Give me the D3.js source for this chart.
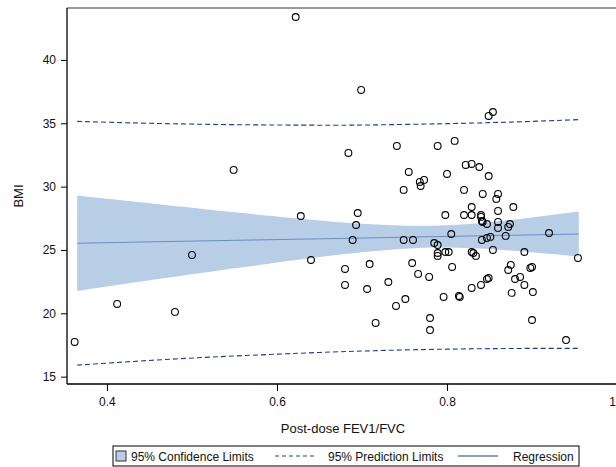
<!DOCTYPE html>
<html>
<head>
<meta charset="utf-8">
<script src="https://cdn.jsdelivr.net/npm/d3@7"></script>
<style>
  body { margin: 0; background: #fff; }
  svg { display: block; font-family: "Liberation Sans", Arial, sans-serif; }
</style>
</head>
<body>
<svg id="chart" width="616" height="467"></svg>
<script>
'use strict';

// scatter: post-dose FEV1/FVC vs BMI
var fevRatio = [0.362, 0.412, 0.480, 0.500, 0.549, 0.622, 0.628, 0.640, 0.680, 0.680,
  0.684, 0.689, 0.693, 0.695, 0.699, 0.706, 0.709, 0.716, 0.731, 0.740,
  0.741, 0.749, 0.749, 0.751, 0.755, 0.759, 0.760, 0.766, 0.768, 0.769,
  0.773, 0.779, 0.780, 0.780, 0.785, 0.789, 0.789, 0.789, 0.789, 0.796,
  0.798, 0.798, 0.800, 0.802, 0.805, 0.806, 0.809, 0.814, 0.815, 0.820,
  0.820, 0.822, 0.829, 0.829, 0.829, 0.829, 0.831, 0.829, 0.834, 0.838,
  0.840, 0.840, 0.840, 0.841, 0.841, 0.842, 0.842, 0.847, 0.847, 0.847,
  0.849, 0.849, 0.849, 0.851, 0.854, 0.854, 0.858, 0.860, 0.860, 0.860,
  0.860, 0.869, 0.872, 0.872, 0.874, 0.875, 0.876, 0.878, 0.880, 0.886,
  0.891, 0.891, 0.898, 0.900, 0.900, 0.901, 0.920, 0.940, 0.954];
var bmi = [17.74, 20.74, 20.11, 24.61, 31.32, 43.39, 27.68, 24.21, 23.50, 22.24,
  32.66, 25.79, 26.97, 27.92, 37.63, 21.92, 23.89, 19.24, 22.47, 20.58,
  33.21, 29.74, 25.79, 21.13, 31.16, 23.97, 25.79, 23.11, 30.37, 30.05,
  30.53, 22.87, 19.63, 18.68, 25.55, 33.21, 25.39, 24.76, 24.53, 21.29,
  27.76, 24.84, 31.00, 24.84, 26.26, 23.66, 33.61, 21.37, 21.29, 29.74,
  27.76, 31.71, 31.79, 28.39, 27.76, 24.84, 24.76, 22.00, 24.53, 31.55,
  27.76, 27.61, 22.24, 27.29, 25.79, 29.42, 27.21, 27.05, 25.95, 22.71,
  35.58, 30.84, 22.79, 26.03, 35.89, 25.00, 29.03, 29.42, 28.08, 27.21,
  26.74, 26.11, 26.82, 23.42, 27.05, 23.82, 21.61, 28.39, 22.71, 22.87,
  24.84, 22.24, 23.58, 23.66, 19.47, 21.68, 26.34, 17.89, 24.37];

// fitted line and limits, read at these x positions
var bandX     = [0.365, 0.45, 0.55, 0.65, 0.70, 0.75, 0.80, 0.85, 0.90, 0.955];
var fitY      = [25.53, 25.64, 25.76, 25.88, 25.94, 26.01, 26.07, 26.13, 26.19, 26.26];
var ciLower   = [21.76, 22.60, 23.55, 24.44, 24.82, 25.10, 25.19, 25.07, 24.82, 24.49];
var ciUpper   = [29.30, 28.68, 27.97, 27.32, 27.06, 26.92, 26.95, 27.19, 27.56, 28.03];
var piLower   = [15.91, 16.28, 16.63, 16.91, 17.02, 17.11, 17.17, 17.21, 17.23, 17.23];
var piUpper   = [35.15, 35.00, 34.89, 34.85, 34.86, 34.91, 34.97, 35.05, 35.15, 35.29];

var xTicks = [0.4, 0.6, 0.8, 1.0];
var yTicks = [15, 20, 25, 30, 35, 40];

function DrawChart()
{
  var svg = d3.select('#chart');

  var pLeft = 67, pRight = 640, pTop = 8, pBottom = 384;

  var x = d3.scaleLinear().domain([0.353, 1.027]).range([pLeft, pRight]);
  var y = d3.scaleLinear().domain([14.42, 44.1]).range([pBottom, pTop]);

  var bandFill = '#b8cee6';
  var navy = '#1c3f8c';

  var bandData = bandX.map((v, i) => ({x: v, fit: fitY[i], lo: ciLower[i], hi: ciUpper[i], plo: piLower[i], phi: piUpper[i]}));

  // confidence band
  svg.append('path')
    .datum(bandData)
    .attr('fill', bandFill)
    .attr('d', d3.area()
      .curve(d3.curveNatural)
      .x(d => x(d.x))
      .y0(d => y(d.lo))
      .y1(d => y(d.hi)));

  // regression line
  svg.append('path')
    .datum(bandData)
    .attr('fill', 'none')
    .attr('stroke', '#6c8cc0')
    .attr('stroke-width', 1)
    .attr('d', d3.line().x(d => x(d.x)).y(d => y(d.fit)));

  // prediction limits
  ['plo', 'phi'].forEach(function(k) {
    svg.append('path')
      .datum(bandData)
      .attr('fill', 'none')
      .attr('stroke', navy)
      .attr('stroke-width', 1.1)
      .attr('stroke-dasharray', '5,3')
      .attr('d', d3.line().curve(d3.curveNatural).x(d => x(d.x)).y(d => y(d[k])));
  });

  // points
  svg.append('g')
    .selectAll('circle')
    .data(fevRatio.map((v, i) => [v, bmi[i]]))
    .join('circle')
      .attr('cx', d => x(d[0]))
      .attr('cy', d => y(d[1]))
      .attr('r', 3.4)
      .attr('fill', 'none')
      .attr('stroke', '#000')
      .attr('stroke-width', 1.1);

  // frame: top line
  svg.append('line')
    .attr('x1', pLeft).attr('x2', 616)
    .attr('y1', pTop).attr('y2', pTop)
    .attr('stroke', '#777').attr('stroke-width', 1.6);

  // axes
  var xAxis = svg.append('g')
    .attr('transform', `translate(0,${pBottom})`)
    .call(d3.axisBottom(x).tickValues(xTicks).tickSize(7).tickPadding(6)
      .tickFormat(d3.format('.1f')));

  var yAxis = svg.append('g')
    .attr('transform', `translate(${pLeft},0)`)
    .call(d3.axisLeft(y).tickValues(yTicks).tickSize(6).tickPadding(5));

  [xAxis, yAxis].forEach(function(g) {
    g.select('.domain').attr('stroke', '#000').attr('stroke-width', 1.3);
    g.selectAll('.tick line').attr('stroke', '#000');
    g.selectAll('.tick text').attr('font-size', 12).attr('fill', '#111')
      .style('font-family', '"Liberation Sans", Arial, sans-serif');
  });
  xAxis.select('.domain').attr('d', `M${pLeft},0H${pRight}`);
  yAxis.select('.domain').attr('d', `M0,${pTop}V${pBottom}`);

  // axis titles
  svg.append('text')
    .attr('x', 343).attr('y', 433)
    .attr('text-anchor', 'middle')
    .attr('font-size', 13)
    .attr('fill', '#111')
    .text('Post-dose FEV1/FVC');

  svg.append('text')
    .attr('transform', 'translate(23,196) rotate(-90)')
    .attr('text-anchor', 'middle')
    .attr('font-size', 13)
    .attr('fill', '#111')
    .text('BMI');

  // legend
  var lg = svg.append('g');
  lg.append('rect')
    .attr('x', 113).attr('y', 446).attr('width', 466).attr('height', 20)
    .attr('fill', 'none').attr('stroke', '#000').attr('stroke-width', 1);
  lg.append('rect')
    .attr('x', 116).attr('y', 451).attr('width', 10).attr('height', 10)
    .attr('fill', bandFill).attr('stroke', '#333').attr('stroke-width', 1);
  lg.append('text').attr('x', 131).attr('y', 460.5).attr('font-size', 12).attr('fill', '#111')
    .text('95% Confidence Limits');
  lg.append('line').attr('x1', 275).attr('x2', 317).attr('y1', 456).attr('y2', 456)
    .attr('stroke', navy).attr('stroke-width', 1.1).attr('stroke-dasharray', '4,3');
  lg.append('text').attr('x', 328).attr('y', 460.5).attr('font-size', 12).attr('fill', '#111')
    .text('95% Prediction Limits');
  lg.append('line').attr('x1', 458).attr('x2', 498).attr('y1', 456).attr('y2', 456)
    .attr('stroke', navy).attr('stroke-width', 1.1);
  lg.append('text').attr('x', 513).attr('y', 460.5).attr('font-size', 12).attr('fill', '#111')
    .text('Regression');
}

DrawChart();
</script>
</body>
</html>
